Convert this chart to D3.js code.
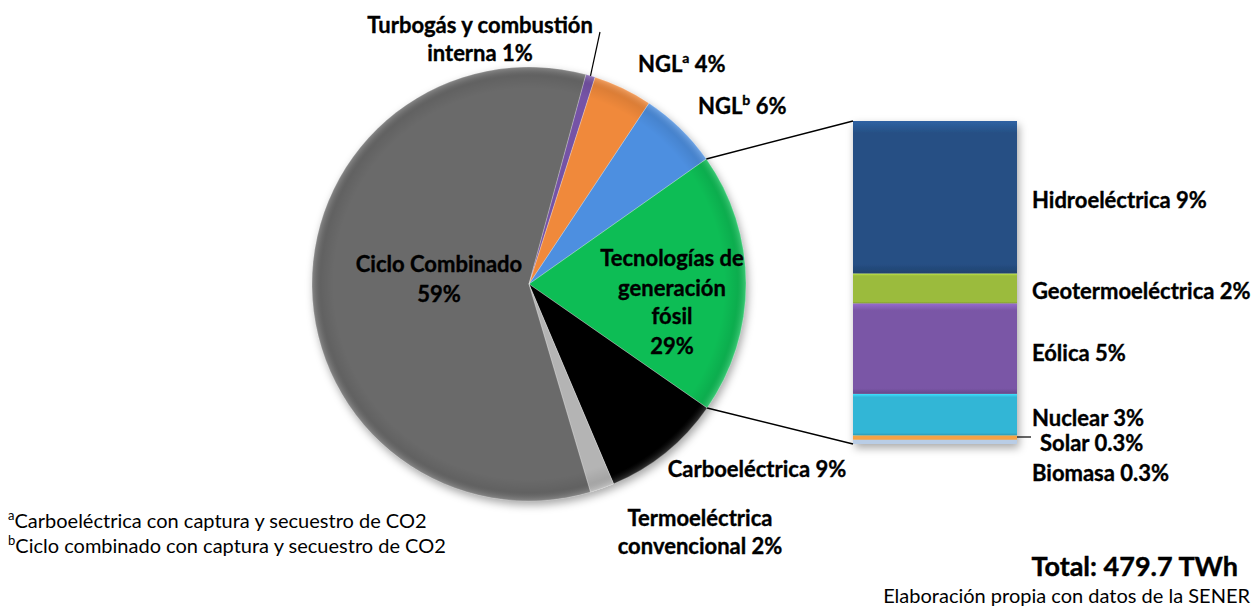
<!DOCTYPE html>
<html>
<head>
<meta charset="utf-8">
<script src="https://cdn.jsdelivr.net/npm/d3@7"></script>
<style>
  body { margin: 0; background: #fff; }
  svg { font-family: Lato, 'Open Sans', sans-serif; }
  .lbl { font-weight: bold; font-size: 22px; fill: #000; stroke: #000; stroke-width: 0.35px; }
  .note { font-size: 20px; fill: #000; }
</style>
</head>
<body>
<div id="chart"></div>
<script>
// pie categories (clockwise from the thin purple slice at the top)
const pieNames = ['Turbogás y combustión interna', 'NGLa', 'NGLb', 'Tecnologías de generación fósil',
  'Carboeléctrica', 'Termoeléctrica convencional', 'Ciclo Combinado']
const pieValues = [0.7, 4.4, 5.9, 19.45, 8.95, 1.8, 58.8]
const pieColors = ['#7452a6', '#f0893b', '#4d8fe0', '#0bbd55', '#050505', '#b4b4b4', '#6a6a6a']

// breakdown bar, bottom to top
const barNames = ['Biomasa 0.3%', 'Solar 0.3%', 'Nuclear 3%', 'Eólica 5%', 'Geotermoeléctrica 2%', 'Hidroeléctrica 9%']
const barValues = [0.26, 0.26, 2.5, 5.45, 1.8, 9.18]
const barColors = ['#b9cde6', '#f5a244', '#33b6d6', '#7a56a6', '#9bbb3c', '#264f84']

const w = 1256
const h = 608
const cx = 529
const cy = 284
const r = 217
const startDeg = 15.2

const svg = d3.select('#chart').append('svg').attr('width', w).attr('height', h)
const defs = svg.append('defs')

const shadow = defs.append('filter').attr('id', 'shadow')
  .attr('x', '-10%').attr('y', '-10%').attr('width', '130%').attr('height', '130%')
shadow.append('feDropShadow').attr('dx', 2).attr('dy', 4).attr('stdDeviation', 4)
  .attr('flood-color', '#000').attr('flood-opacity', 0.35)

// soft bevel for the pie rim
const rg = defs.append('radialGradient').attr('id', 'bevel')
  .attr('gradientUnits', 'userSpaceOnUse').attr('cx', 0).attr('cy', 0).attr('r', r)
rg.append('stop').attr('offset', '0%').attr('stop-color', '#000').attr('stop-opacity', 0)
rg.append('stop').attr('offset', '90%').attr('stop-color', '#000').attr('stop-opacity', 0)
rg.append('stop').attr('offset', '96%').attr('stop-color', '#000').attr('stop-opacity', 0.08)
rg.append('stop').attr('offset', '100%').attr('stop-color', '#fff').attr('stop-opacity', 0.2)

const pie = d3.pie().sort(null).value((d) => d)
  .startAngle(startDeg * Math.PI / 180)
  .endAngle(startDeg * Math.PI / 180 + 2 * Math.PI)
const arcs = pie(pieValues)
const arc = d3.arc().innerRadius(0).outerRadius(r)

const pieG = svg.append('g').attr('transform', `translate(${cx},${cy})`)
pieG.append('g').attr('filter', 'url(#shadow)')
  .selectAll('path').data(arcs).join('path')
  .attr('d', arc)
  .attr('fill', (d, i) => pieColors[i])
pieG.selectAll('path.hl').data(arcs).join('path')
  .attr('class', 'hl')
  .attr('d', arc)
  .attr('fill', 'url(#bevel)')
pieG.selectAll('path.edge').data(arcs).join('path')
  .attr('class', 'edge')
  .attr('d', arc)
  .attr('fill', 'none')
  .attr('stroke', '#fff')
  .attr('stroke-opacity', 0.2)
  .attr('stroke-width', 1)

// stacked bar
const bx0 = 853
const bx1 = 1017
const total = d3.sum(barValues)
const yScale = d3.scaleLinear().domain([0, total]).range([444, 121])
const stacks = []
let acc = 0
barValues.forEach((v, i) => { stacks.push({ y0: acc, y1: acc + v, i: i }); acc += v })

barColors.forEach((c, i) => {
  const g = defs.append('linearGradient').attr('id', 'bg' + i).attr('x1', 0).attr('y1', 0).attr('x2', 0).attr('y2', 1)
  g.append('stop').attr('offset', '0%').attr('stop-color', d3.color(c).brighter(0.6))
  g.append('stop').attr('offset', '8%').attr('stop-color', c)
  g.append('stop').attr('offset', '94%').attr('stop-color', c)
  g.append('stop').attr('offset', '100%').attr('stop-color', d3.color(c).darker(0.5))
})

const barG = svg.append('g').attr('filter', 'url(#shadow)')
barG.selectAll('rect').data(stacks).join('rect')
  .attr('x', bx0)
  .attr('width', bx1 - bx0)
  .attr('y', (d) => yScale(d.y1))
  .attr('height', (d) => yScale(d.y0) - yScale(d.y1))
  .attr('fill', (d) => 'url(#bg' + d.i + ')')

// connectors from green slice to bar
const green = arcs[3]
const ptAt = (a) => [cx + r * Math.sin(a), cy - r * Math.cos(a)]
const p0 = ptAt(green.startAngle)
const p1 = ptAt(green.endAngle)
svg.append('line').attr('x1', p0[0]).attr('y1', p0[1]).attr('x2', bx0).attr('y2', yScale(total))
  .attr('stroke', '#000').attr('stroke-width', 1.5)
svg.append('line').attr('x1', p1[0]).attr('y1', p1[1]).attr('x2', bx0).attr('y2', yScale(0))
  .attr('stroke', '#000').attr('stroke-width', 1.5)

// pie labels
const addLines = (lines, x, ys) => {
  const t = svg.append('text').attr('class', 'lbl').attr('text-anchor', 'middle')
  lines.forEach((s, k) => {
    t.append('tspan').attr('x', x).attr('y', ys[k]).attr('dominant-baseline', 'central').text(s)
  })
  return t
}
addLines(['Turbogás y combustión', 'interna 1%'], 480, [24, 52])
addLines(['Ciclo Combinado', '59%'], 439, [263, 293])
addLines(['Tecnologías de', 'generación', 'fósil', '29%'], 672, [257, 287, 315, 345])
addLines(['Carboeléctrica 9%'], 757, [468])
addLines(['Termoeléctrica', 'convencional 2%'], 700, [517, 545])

const supLabel = (base, sup, rest, x, y) => {
  const t = svg.append('text').attr('class', 'lbl').attr('x', x).attr('y', y).attr('dominant-baseline', 'central')
  t.append('tspan').text(base)
  t.append('tspan').attr('font-size', 14).attr('dy', -6).text(sup)
  t.append('tspan').attr('dy', 6).text(rest)
}
supLabel('NGL', 'a', ' 4%', 638, 63)
supLabel('NGL', 'b', ' 6%', 698, 105)

const mid0 = ptAt((arcs[0].startAngle + arcs[0].endAngle) / 2)
svg.append('line').attr('x1', 600).attr('y1', 32).attr('x2', mid0[0]).attr('y2', mid0[1])
  .attr('stroke', '#000').attr('stroke-width', 1.2)

// bar labels
const barLabelY = [472, 442, 417, 352, 290, 199]
const barLabelX = [1032, 1040, 1032, 1032, 1032, 1032]
svg.append('g').selectAll('text').data(barNames).join('text')
  .attr('class', 'lbl')
  .attr('x', (d, i) => barLabelX[i])
  .attr('y', (d, i) => barLabelY[i])
  .attr('dominant-baseline', 'central')
  .text((d) => d)
svg.append('line').attr('x1', bx1).attr('y1', 437).attr('x2', 1031).attr('y2', 437)
  .attr('stroke', '#000').attr('stroke-width', 1.2)

// footnotes
const fn = (sup, s, y) => {
  const t = svg.append('text').attr('class', 'note').attr('x', 8).attr('y', y).attr('dominant-baseline', 'central')
  t.append('tspan').attr('font-size', 13).attr('dy', -5).text(sup)
  t.append('tspan').attr('dy', 5).text(s)
}
fn('a', 'Carboeléctrica con captura y secuestro de CO2', 520)
fn('b', 'Ciclo combinado con captura y secuestro de CO2', 545)

svg.append('text').attr('x', 1238).attr('y', 565).attr('text-anchor', 'end').attr('dominant-baseline', 'central')
  .style('font-weight', 'bold').style('font-size', '27px').style('stroke', '#000').style('stroke-width', '0.4px')
  .text('Total: 479.7 TWh')
svg.append('text').attr('class', 'note').attr('x', 1250).attr('y', 595).attr('text-anchor', 'end')
  .attr('dominant-baseline', 'central').text('Elaboración propia con datos de la SENER')
</script>
</body>
</html>
